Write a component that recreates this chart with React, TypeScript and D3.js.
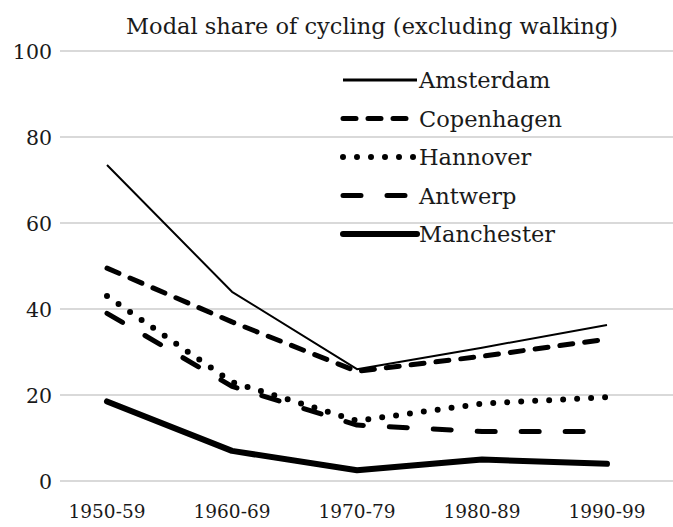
import React from 'react';
import * as d3 from 'd3';

// categories and series
const periods = ['1950-59', '1960-69', '1970-79', '1980-89', '1990-99'];
const cities = ['Amsterdam', 'Copenhagen', 'Hannover', 'Antwerp', 'Manchester'];
const amsterdam = [73.5, 44, 26, 31, 36.3];
const copenhagen = [49.5, 37, 25.5, 29, 33];
const hannover = [43, 23, 14, 18, 19.5];
const antwerp = [39, 22, 13, 11.5, 11.5];
const manchester = [18.5, 7, 2.5, 5, 4];
const yTicks = [0, 20, 40, 60, 80, 100];

const seriesValues = [amsterdam, copenhagen, hannover, antwerp, manchester];

// stroke styles per city
const styles = [
  { width: 2, dash: 'none', cap: 'butt' },
  { width: 5, dash: '13 12', cap: 'round' },
  { width: 6, dash: '0 14', cap: 'round' },
  { width: 5, dash: '18 26', cap: 'round' },
  { width: 6, dash: 'none', cap: 'round' },
];

const W = 673;
const H = 527;
const font = 'DejaVu Serif, serif';

export default function App() {
  const x = d3.scalePoint().domain(periods).range([107, 607]);
  const y = d3.scaleLinear().domain([0, 100]).range([481, 51]);
  const line = d3
    .line<number>()
    .x((_, i) => x(periods[i]) as number)
    .y((d) => y(d));

  return (
    <svg width={W} height={H} style={{ position: 'absolute', left: 0, top: 0, background: '#fff' }}>
      <text x={372} y={34} textAnchor="middle" fontFamily={font} fontSize={22.5} fill="#1a1a1a">
        Modal share of cycling (excluding walking)
      </text>
      {yTicks.map((t) => (
        <g key={t}>
          <line x1={60} x2={673} y1={y(t)} y2={y(t)} stroke="#d9d9d9" strokeWidth={2} />
          <text x={52} y={y(t) + 7.5} textAnchor="end" fontFamily={font} fontSize={20.5} fill="#1a1a1a">
            {t}
          </text>
        </g>
      ))}
      {periods.map((p) => (
        <text key={p} x={x(p)} y={518} textAnchor="middle" fontFamily={font} fontSize={18.5} fill="#1a1a1a">
          {p}
        </text>
      ))}
      {seriesValues.map((vals, i) => (
        <path
          key={cities[i]}
          d={line(vals) as string}
          fill="none"
          stroke="#000"
          strokeWidth={styles[i].width}
          strokeDasharray={styles[i].dash}
          strokeLinecap={styles[i].cap as any}
          strokeLinejoin="round"
        />
      ))}
      {cities.map((c, i) => {
        const ly = 80 + i * 38.5;
        return (
          <g key={c}>
            <line
              x1={343}
              x2={417}
              y1={ly}
              y2={ly}
              stroke="#000"
              strokeWidth={i === 0 ? 3 : styles[i].width}
              strokeDasharray={styles[i].dash}
              strokeLinecap={styles[i].cap as any}
            />
            <text x={419} y={ly + 8} fontFamily={font} fontSize={22.5} fill="#1a1a1a">
              {c}
            </text>
          </g>
        );
      })}
    </svg>
  );
}
